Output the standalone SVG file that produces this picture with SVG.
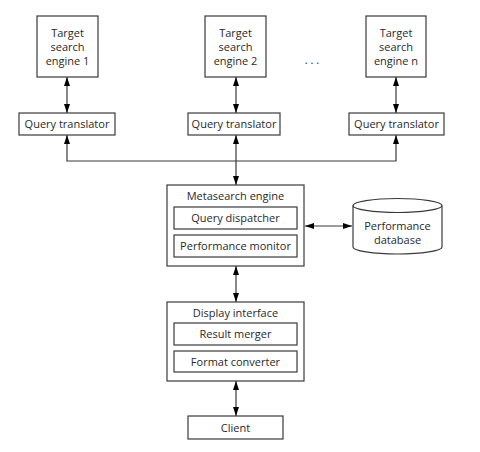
<svg xmlns="http://www.w3.org/2000/svg" width="480" height="452" viewBox="0 0 480 452">
<style>
.b{fill:#fff;stroke:#3a3a3a;stroke-width:1.2}
.t{font-family:"Open Sans","DejaVu Sans",sans-serif;font-size:11px;fill:#2a2a2a;text-anchor:middle}
.c{fill:none;stroke:#3a3a3a;stroke-width:1.2}
</style>
<defs>
<marker id="ah" viewBox="0 0 10 10" refX="10" refY="5" markerWidth="9" markerHeight="6" markerUnits="userSpaceOnUse" orient="auto-start-reverse" preserveAspectRatio="none">
<path d="M0,0 L10,5 L0,10 Z" fill="#000"/>
</marker>
</defs>
<rect width="480" height="452" fill="#fff"/>
<g id="connectors">
<line class="c" x1="67" y1="77" x2="67" y2="113" marker-start="url(#ah)" marker-end="url(#ah)"/>
<line class="c" x1="236" y1="77" x2="236" y2="113" marker-start="url(#ah)" marker-end="url(#ah)"/>
<line class="c" x1="396" y1="77" x2="396" y2="113" marker-start="url(#ah)" marker-end="url(#ah)"/>
<polyline class="c" points="67,135 67,161 396,161 396,135" marker-start="url(#ah)" marker-end="url(#ah)"/>
<line class="c" x1="236" y1="135" x2="236" y2="185" marker-start="url(#ah)" marker-end="url(#ah)"/>
<line class="c" x1="305" y1="226" x2="352" y2="226" marker-start="url(#ah)" marker-end="url(#ah)"/>
<line class="c" x1="236" y1="266" x2="236" y2="302" marker-start="url(#ah)" marker-end="url(#ah)"/>
<line class="c" x1="236" y1="381" x2="236" y2="416" marker-start="url(#ah)" marker-end="url(#ah)"/>
</g>
<g id="engine1"><rect class="b" x="37" y="16" width="61" height="61"/><text class="t" x="67.5" y="37">Target</text><text class="t" x="67.5" y="51">search</text><text class="t" x="67.5" y="65">engine 1</text></g>
<g id="engine2"><rect class="b" x="205" y="16" width="61" height="61"/><text class="t" x="235.5" y="37">Target</text><text class="t" x="235.5" y="51">search</text><text class="t" x="235.5" y="65">engine 2</text></g>
<g id="enginen"><rect class="b" x="366" y="16" width="60" height="61"/><text class="t" x="396" y="37">Target</text><text class="t" x="396" y="51">search</text><text class="t" x="396" y="65">engine n</text></g>
<g id="dots"><text class="t" x="312" y="64">. . .</text></g>
<g id="qt1"><rect class="b" x="19" y="113" width="96" height="22"/><text class="t" x="67" y="128">Query translator</text></g>
<g id="qt2"><rect class="b" x="188" y="113" width="92" height="22"/><text class="t" x="234" y="128">Query translator</text></g>
<g id="qtn"><rect class="b" x="349" y="113" width="95" height="22"/><text class="t" x="396.5" y="128">Query translator</text></g>
<g id="metasearch"><rect class="b" x="167" y="185" width="137" height="81"/><text class="t" x="235.5" y="200">Metasearch engine</text>
<rect class="b" x="174" y="207" width="123" height="22"/><text class="t" x="235.5" y="222">Query dispatcher</text>
<rect class="b" x="174" y="235" width="123" height="22"/><text class="t" x="235.5" y="250">Performance monitor</text></g>
<g id="database">
<path class="b" d="M353,205.5 L353,247 A44.5,7 0 0 0 442,247 L442,205.5"/>
<ellipse class="b" cx="397.5" cy="205.5" rx="44.5" ry="7"/>
<text class="t" x="397.5" y="230">Performance</text><text class="t" x="397.5" y="244">database</text></g>
<g id="display"><rect class="b" x="167" y="302" width="137" height="79"/><text class="t" x="235.5" y="317">Display interface</text>
<rect class="b" x="174" y="323" width="123" height="22"/><text class="t" x="235.5" y="338">Result merger</text>
<rect class="b" x="174" y="351" width="123" height="21"/><text class="t" x="235.5" y="366">Format converter</text></g>
<g id="client"><rect class="b" x="188" y="416" width="95" height="23"/><text class="t" x="235.5" y="432">Client</text></g>
</svg>
